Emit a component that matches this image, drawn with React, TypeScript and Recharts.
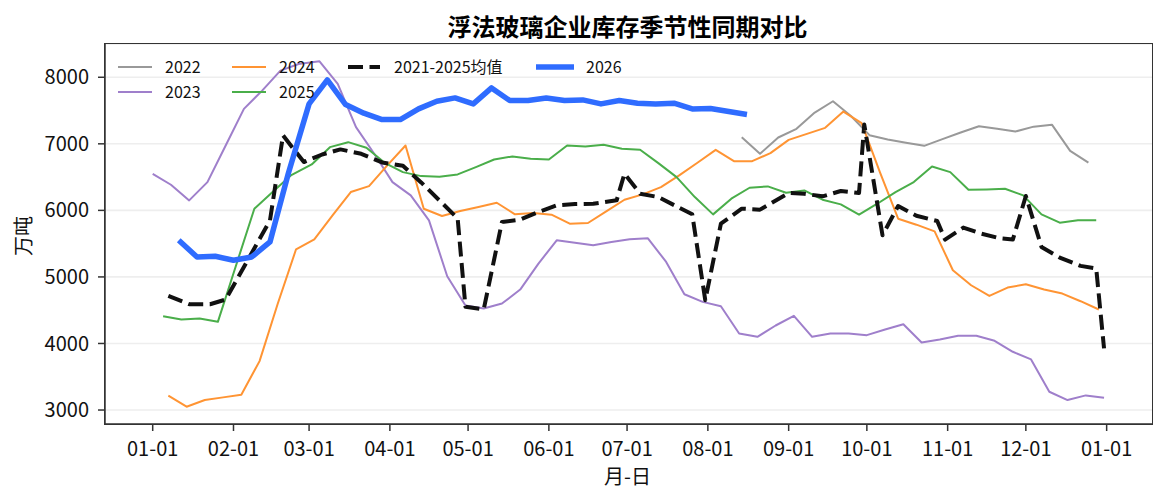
import React from "react";
import { LineChart, Line, XAxis, YAxis, CartesianGrid, Label } from "recharts";

const FONT = "'Noto Sans CJK SC', 'Noto Sans', sans-serif";

// day-of-year offsets on a leap-year calendar (x axis)
const monthStart = [0, 31, 60, 91, 121, 152, 182, 213, 244, 274, 305, 335, 366];
const tickLabels = [
  "01-01", "02-01", "03-01", "04-01", "05-01", "06-01", "07-01",
  "08-01", "09-01", "10-01", "11-01", "12-01", "01-01",
];
const yTicks = [3000, 4000, 5000, 6000, 7000, 8000];

// weekly values, first date given for each year
const start2022 = "2022-08-14";
const values2022 = [
  7100, 6850, 7095, 7225, 7470, 7640, 7415, 7130, 7065, 7015, 6970, 7070, 7170,
  7265, 7225, 7185, 7258, 7288, 6895, 6718,
];

const start2023 = "2023-01-01";
const values2023 = [
  6550, 6385, 6150, 6425, 6975, 7525, 7800, 8100, 8200, 8240, 7900, 7250, 6850,
  6425, 6225, 5850, 5010, 4570, 4525, 4600, 4810, 5200, 5550, 5515, 5475, 5525,
  5565, 5580, 5225, 4740, 4625, 4560, 4150, 4100, 4270, 4415, 4100, 4150, 4150,
  4125, 4210, 4290, 4015, 4060, 4115, 4115, 4040, 3875, 3760, 3275, 3150, 3220,
  3185,
];

const start2024 = "2024-01-07";
const values2024 = [
  3215, 3050, 3150, 3190, 3230, 3735, 4600, 5415, 5565, 5925, 6275, 6365, 6675,
  6975, 6025, 5915, 5990, 6050, 6115, 5940, 5960, 5935, 5800, 5810, 5985, 6160,
  6240, 6350, 6525, 6715, 6910, 6740, 6740, 6860, 7060, 7150, 7240, 7485, 7310,
  6575, 5875, 5785, 5685, 5100, 4875, 4715, 4840, 4890, 4810, 4750, 4635, 4510,
];

const start2025 = "2025-01-05";
const values2025 = [
  4410, 4360, 4375, 4325, 5175, 6025, 6275, 6525, 6690, 6950, 7025, 6940, 6715,
  6575, 6515, 6505, 6540, 6650, 6765, 6810, 6775, 6765, 6975, 6960, 6985, 6925,
  6910, 6710, 6500, 6200, 5940, 6175, 6340, 6360, 6265, 6300, 6160, 6090, 5935,
  6100, 6275, 6425, 6660, 6575, 6310, 6315, 6325, 6225, 5940, 5815, 5850, 5850,
];

const start2026 = "2026-01-11";
const values2026 = [
  5550, 5300, 5310, 5250, 5300, 5525, 6550, 7600, 7960, 7590, 7460, 7365, 7365,
  7525, 7640, 7690, 7600, 7840, 7650, 7650, 7690, 7650, 7660, 7600, 7650, 7610,
  7600, 7610, 7525, 7530, 7485, 7440,
];

// 2021-2025 mean, read at its own days
const meanDays = [
  6, 14, 22, 28, 45, 50, 58, 65, 72, 80, 88, 96, 103, 110, 117, 120, 127, 134,
  141, 148, 155, 162, 169, 178, 181, 187, 194, 201, 207, 212, 218, 226, 233, 244,
  250, 257, 264, 271, 273, 280, 286, 293, 301, 304, 311, 318, 325, 330, 335, 341,
  348, 356, 362, 365,
];
const meanValues = [
  4716, 4590, 4590, 4660, 5850, 7126, 6726, 6840, 6916, 6850, 6720, 6670, 6420,
  6150, 5880, 4551, 4511, 5826, 5861, 5976, 6076, 6095, 6100, 6151, 6551, 6251,
  6200, 6060, 5941, 4651, 5800, 6026, 6011, 6261, 6250, 6211, 6291, 6261, 7291,
  5626, 6065, 5920, 5841, 5561, 5741, 5650, 5580, 5561, 6216, 5451, 5290, 5166,
  5126, 3926,
];

function leapDay(d: Date) {
  return monthStart[d.getUTCMonth()] + d.getUTCDate() - 1;
}

function weekly(start: string, values: number[]) {
  const t0 = Date.parse(start + "T00:00:00Z");
  return values.map((v, i) => ({
    day: leapDay(new Date(t0 + i * 7 * 86400000)),
    value: v,
  }));
}

const series = [
  { name: "2022", data: weekly(start2022, values2022), color: "#999999", width: 2 },
  { name: "2023", data: weekly(start2023, values2023), color: "#9f7fcb", width: 2 },
  { name: "2024", data: weekly(start2024, values2024), color: "#ff9433", width: 2 },
  { name: "2025", data: weekly(start2025, values2025), color: "#4aae4a", width: 2 },
  {
    name: "2021-2025均值",
    data: meanDays.map((d, i) => ({ day: d, value: meanValues[i] })),
    color: "#111111",
    width: 4,
    dash: "15 6.5",
  },
  { name: "2026", data: weekly(start2026, values2026), color: "#2f6cff", width: 5.5 },
];

// legend slots: [lineStart, lineEnd, textX, y]
const legendPos = [
  [118, 152, 165, 67],
  [118, 152, 165, 92],
  [232, 266, 279, 67],
  [232, 266, 279, 92],
  [348, 380, 394, 67],
  [536, 574, 586, 67],
];

function ChartLegend() {
  return (
    <svg
      width={700}
      height={110}
      style={{ position: "absolute", left: 0, top: 0, pointerEvents: "none" }}
    >
      {series.map((s, i) => {
        const [x1, x2, tx, y] = legendPos[i];
        return (
          <g key={s.name}>
            <line
              x1={x1}
              x2={x2}
              y1={y}
              y2={y}
              stroke={s.color}
              strokeWidth={s.width}
              strokeDasharray={s.dash}
            />
            <text x={tx} y={y + 6} fontSize={16} fill="#111" fontFamily={FONT}>
              {s.name}
            </text>
          </g>
        );
      })}
    </svg>
  );
}

export default function App() {
  return (
    <div
      style={{
        position: "absolute",
        left: 0,
        top: 0,
        width: 1166,
        height: 503,
        background: "#fff",
        fontFamily: FONT,
      }}
    >
      <div
        style={{
          position: "absolute",
          left: 427.5,
          width: 400,
          top: 14,
          textAlign: "center",
          fontSize: 24,
          lineHeight: "24px",
          fontWeight: "bold",
          color: "#000",
        }}
      >
        浮法玻璃企业库存季节性同期对比
      </div>
      <LineChart
        width={1166}
        height={503}
        margin={{ top: 44, right: 14, bottom: 29, left: 20 }}
      >
        <CartesianGrid vertical={false} stroke="#eeeeee" strokeWidth={1.6} />
        <XAxis
          dataKey="day"
          type="number"
          domain={[-18.3, 383.4]}
          allowDataOverflow
          ticks={monthStart}
          interval={0}
          tickFormatter={(v) => tickLabels[monthStart.indexOf(v)]}
          height={50}
          tickSize={7}
          tickMargin={11}
          stroke="#333"
          strokeWidth={1.5}
          tick={{ fontSize: 20, fill: "#111", fontFamily: FONT }}
        >
          <Label
            content={() => (
              <text
                x={627.5}
                y={484}
                textAnchor="middle"
                fontSize={20}
                fill="#111"
                fontFamily={FONT}
              >
                月-日
              </text>
            )}
          />
        </XAxis>
        <YAxis
          type="number"
          domain={[2790, 8500]}
          allowDataOverflow
          ticks={yTicks}
          width={85}
          tickSize={7}
          tickMargin={9}
          stroke="#333"
          strokeWidth={1.5}
          tick={{ fontSize: 20, fill: "#111", fontFamily: FONT }}
        >
          <Label
            content={() => (
              <text
                x={30.6}
                y={236}
                textAnchor="middle"
                fontSize={20}
                fill="#111"
                fontFamily={FONT}
                transform="rotate(-90 30.6 236)"
              >
                万吨
              </text>
            )}
          />
        </YAxis>
        {series.map((s) => (
          <Line
            key={s.name}
            data={s.data}
            dataKey="value"
            name={s.name}
            type="linear"
            stroke={s.color}
            strokeWidth={s.width}
            strokeDasharray={s.dash}
            strokeLinejoin="round"
            dot={false}
            activeDot={false}
            isAnimationActive={false}
          />
        ))}
      </LineChart>
      <div
        style={{
          position: "absolute",
          left: 104.25,
          top: 43.25,
          width: 1048.5,
          height: 381.5,
          border: "1.5px solid #333",
          boxSizing: "border-box",
          pointerEvents: "none",
        }}
      />
      <ChartLegend />
    </div>
  );
}
